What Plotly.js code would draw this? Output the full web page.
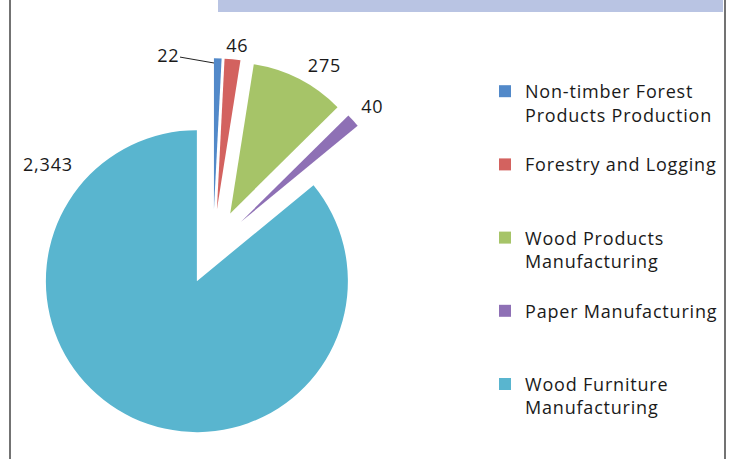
<!DOCTYPE html>
<html>
<head>
<meta charset="utf-8">
<script src="https://cdn.plot.ly/plotly-3.0.1.min.js"></script>
<style>
html,body{margin:0;padding:0;background:#fff;}
#chart{width:737px;height:459px;}
#chart .legendtext, #chart .annotation-text{letter-spacing:0.8px;}
#chart .legend .scrollbox, #chart .legend g{clip-path:none !important;}
</style>
</head>
<body>
<div id="chart"></div>
<script>
const categories = [
  "Non-timber Forest<br>Products Production",
  "Forestry and Logging",
  "Wood Products<br>Manufacturing",
  "Paper Manufacturing",
  "Wood Furniture<br>Manufacturing"
];
const values = [22, 46, 275, 40, 2343];
const colors = ["#5289C9", "#D3625F", "#A6C468", "#8E70B5", "#59B5CF"];
const valueLabels = values.map(v => v.toLocaleString("en-US"));

// pad legend entries to three lines each so the items are evenly spaced
const legendLabels = categories.map(c => {
  const n = c.split("<br>").length;
  let s = c;
  for (let i = n; i < 3; i++) s += "<br>\u00a0";
  return s;
});

const W = 737, H = 459;
const px = x => x / W;
const py = y => 1 - y / H;

const trace = {
  type: "pie",
  labels: legendLabels,
  values: values,
  sort: false,
  direction: "clockwise",
  rotation: 0,
  pull: values.map(() => 0.25),
  marker: { colors: colors, line: { width: 0 } },
  textinfo: "none",
  hoverinfo: "label+value",
  domain: { x: [px(213 - 188.75), px(213 + 188.75)], y: [py(247 + 188.75), py(247 - 188.75)] }
};

const fontFam = "'Open Sans', 'Noto Sans', sans-serif";
const labelFont = { family: fontFam, size: 18, color: "#1a1a1a" };
const annPos = [
  { x: 214, y: 63, ax: -46, ay: -8, arrow: true },
  { x: 238, y: 45 },
  { x: 324, y: 65 },
  { x: 372, y: 106 },
  { x: 48, y: 164 }
];
const annotations = valueLabels.map((t, i) => {
  const p = annPos[i];
  const a = { text: t, xref: "paper", yref: "paper", x: px(p.x), y: py(p.y), font: labelFont, xanchor: "center", yanchor: "middle" };
  if (p.arrow) {
    Object.assign(a, { showarrow: true, ax: p.ax, ay: p.ay, arrowhead: 0, arrowwidth: 1, arrowcolor: "#222", standoff: 0, startstandoff: 0 });
  } else {
    a.showarrow = false;
  }
  return a;
});

const layout = {
  width: W, height: H,
  margin: { l: 0, r: 0, t: 0, b: 0 },
  paper_bgcolor: "#ffffff",
  showlegend: true,
  legend: {
    x: px(485), xanchor: "left",
    y: py(73), yanchor: "top",
    valign: "top",
    font: { family: fontFam, size: 18, color: "#1a1a1a" },
    bgcolor: "rgba(0,0,0,0)",
    traceorder: "normal"
  },
  annotations: annotations,
  shapes: [
    { type: "rect", xref: "paper", yref: "paper", x0: px(218), x1: px(723), y0: py(12), y1: py(0), fillcolor: "#B9C4E3", line: { width: 0 } },
    { type: "line", xref: "paper", yref: "paper", x0: px(10), x1: px(10), y0: 0, y1: 1, line: { color: "#444", width: 1.5 } },
    { type: "line", xref: "paper", yref: "paper", x0: px(725), x1: px(725), y0: 0, y1: 1, line: { color: "#444", width: 1.5 } }
  ]
};

Plotly.newPlot("chart", [trace], layout, { displayModeBar: false, staticPlot: true });
</script>
</body>
</html>
